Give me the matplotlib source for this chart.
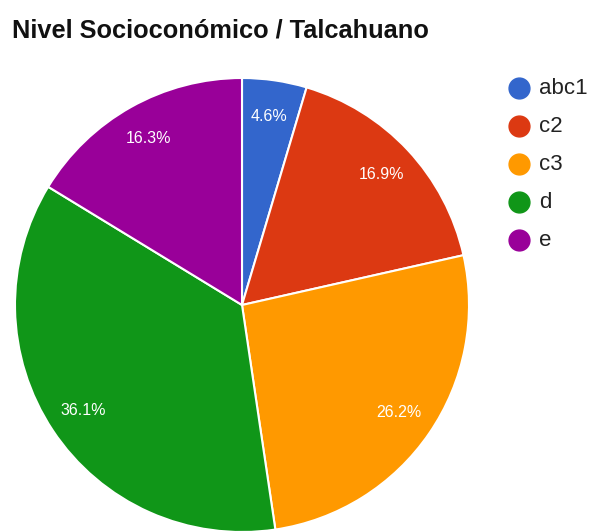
import matplotlib.pyplot as plt

labels = ['abc1', 'c2', 'c3', 'd', 'e']
shares = [4.6, 16.9, 26.2, 36.1, 16.3]
colors = ['#3366cc', '#dc3912', '#ff9900', '#109618', '#990099']

W, H = 593, 532
fig = plt.figure(figsize=(W / 100, H / 100), dpi=100)
ax = fig.add_axes([0, 0, 1, 1])

# pie in pixel units, clockwise from 12 o'clock
wedges, texts, autotexts = ax.pie(
    shares, colors=colors, center=(242, H - 305), radius=227,
    startangle=90, counterclock=False, autopct='%.1f%%', pctdistance=0.84,
    wedgeprops=dict(edgecolor='white', linewidth=1.5),
    textprops=dict(color='white', fontsize=11.5, family='Liberation Sans'),
    frame=True)
ax.set_xlim(0, W)
ax.set_ylim(0, H)
ax.set_aspect('equal')
ax.axis('off')

fig.text(12 / W, 1 - 31 / H, 'Nivel Socioconómico / Talcahuano', fontsize=18.3,
         fontweight='bold', family='Liberation Sans', va='center', ha='left',
         color='#111111')

# legend: filled circles with labels
for i, (lab, col) in enumerate(zip(labels, colors)):
    y = H - (88 + 38 * i)
    ax.plot(519, y, 'o', markersize=15, color=col)
    ax.text(539, y, lab, fontsize=16, family='Liberation Sans',
            va='center', ha='left', color='#222222')

fig.savefig('out.png', dpi=100)
